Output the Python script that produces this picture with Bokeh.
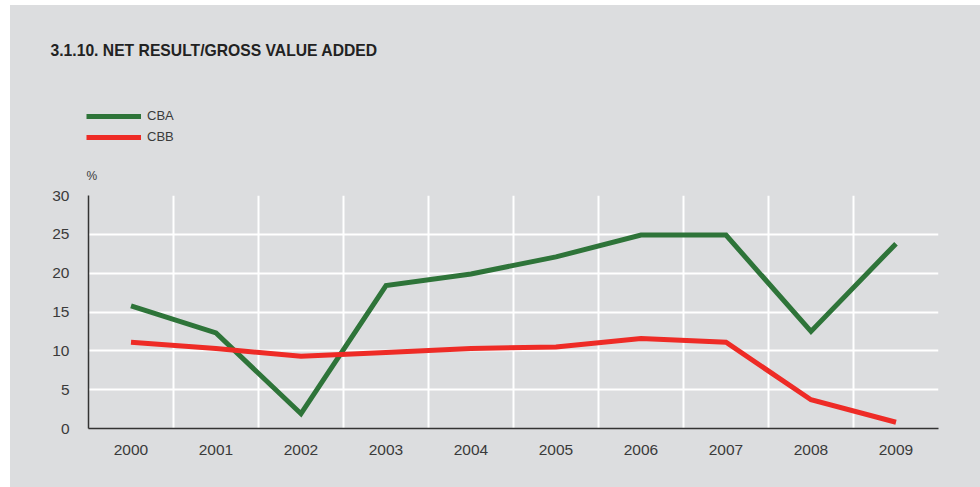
from bokeh.plotting import figure
from bokeh.layouts import column
from bokeh.models import Range1d, FixedTicker, Label, Legend, LegendItem
from bokeh.embed import file_html
from bokeh.resources import INLINE

years = [2000, 2001, 2002, 2003, 2004, 2005, 2006, 2007, 2008, 2009]
cba = [15.8, 12.3, 1.9, 18.4, 19.9, 22.1, 24.9, 24.9, 12.5, 23.8]
cbb = [11.1, 10.3, 9.3, 9.8, 10.3, 10.5, 11.6, 11.1, 3.7, 0.8]
y_ticks = [0, 5, 10, 15, 20, 25, 30]
series_names = ["CBA", "CBB"]
series_colors = ["#2e7439", "#ee2b26"]

BG = "#dcdddf"
TXT = "#3a3a3a"
FONT = "Liberation Sans"
W = 970
TOP_H = 178
BOT_H = 482 - TOP_H

# ---- header figure (title, legend, unit) ----
top = figure(width=W, height=TOP_H, output_backend="svg", toolbar_location=None,
             x_range=Range1d(0, W), y_range=Range1d(0, TOP_H),
             x_axis_type=None, y_axis_type=None,
             min_border=0, min_border_left=0, min_border_right=0,
             min_border_top=0, min_border_bottom=0)
top.frame_align = False
top.background_fill_color = BG
top.border_fill_color = BG
top.outline_line_color = None
top.xgrid.visible = False
top.ygrid.visible = False

# series drawn outside the header's visible range; used only for legend glyphs
h1 = top.line(years, cba, line_color=series_colors[0], line_width=5)
h2 = top.line(years, cbb, line_color=series_colors[1], line_width=5)

legend = Legend(items=[LegendItem(label=series_names[0], renderers=[h1]),
                       LegendItem(label=series_names[1], renderers=[h2])],
                location=(76, 39), orientation="vertical",
                glyph_width=55, glyph_height=14, label_standoff=6, spacing=6,
                padding=0, margin=0, border_line_color=None,
                background_fill_alpha=0,
                label_text_font=FONT, label_text_font_size="13px", label_text_color=TXT)
top.add_layout(legend)

top.add_layout(Label(x=40, y=133, text="3.1.10. NET RESULT/GROSS VALUE ADDED",
                     text_font=FONT, text_font_size="15.7px", text_font_style="bold",
                     text_color="#222222", text_baseline="middle"))
top.add_layout(Label(x=76, y=8, text="%",
                     text_font=FONT, text_font_size="12px", text_color=TXT,
                     text_baseline="middle"))

# ---- chart figure ----
p = figure(width=W, height=BOT_H, output_backend="svg", toolbar_location=None,
           x_range=Range1d(years[0] - 0.5, years[-1] + 0.5), y_range=Range1d(0, 30),
           min_border_left=78, min_border_right=42, min_border_top=12, min_border_bottom=59)
p.frame_align = False
p.background_fill_color = BG
p.border_fill_color = BG
p.outline_line_color = None

p.xgrid.ticker = FixedTicker(ticks=[y + 0.5 for y in years])
p.ygrid.ticker = FixedTicker(ticks=y_ticks)
for g in (p.xgrid, p.ygrid):
    g.grid_line_color = "white"
    g.grid_line_width = 2
    g.grid_line_alpha = 1

p.xaxis.ticker = FixedTicker(ticks=years)
p.yaxis.ticker = FixedTicker(ticks=y_ticks)
for ax in (p.xaxis, p.yaxis):
    ax.axis_line_color = "#333333"
    ax.axis_line_width = 1.5
    ax.major_tick_line_color = None
    ax.minor_tick_line_color = None
    ax.major_label_text_font = FONT
    ax.major_label_text_font_size = "15.5px"
    ax.major_label_text_color = TXT
p.xaxis.major_label_standoff = 10
p.yaxis.major_label_standoff = 13

p.line(years, cba, line_color=series_colors[0], line_width=5, line_join="miter")
p.line(years, cbb, line_color=series_colors[1], line_width=5, line_join="miter")

layout = column(top, p, spacing=0, margin=(5, 0, 0, 10))
layout.styles = {"background-color": BG, "gap": "0px"}
open("out.html", "w").write(file_html(layout, INLINE))
